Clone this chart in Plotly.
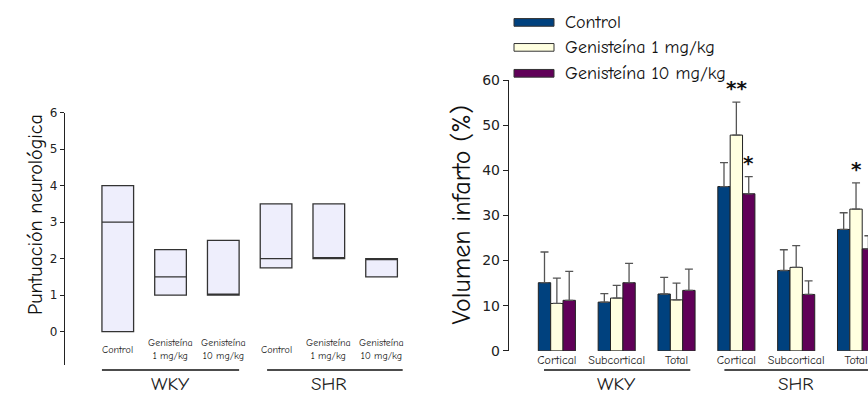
import plotly.graph_objects as go

# --- left panel: neurological score (box = q1..q3, line = median) ---
score_labels = ["Control", "Genisteína<br>1 mg/kg", "Genisteína<br>10 mg/kg",
                "Control", "Genisteína<br>1 mg/kg", "Genisteína<br>10 mg/kg"]
score_pos = [1, 2, 3, 4, 5, 6]
score_q1 = [0, 1, 1, 1.75, 2, 1.5]
score_median = [3, 1.5, 1, 2, 2, 2]
score_q3 = [4, 2.25, 2.5, 3.5, 3.5, 2]

# --- right panel: infarct volume ---
regions = ["Cortical", "Subcortical", "Total", "Cortical", "Subcortical", "Total"]
region_pos = [1, 2, 3, 4, 5, 6]
series = ["Control", "Genisteína 1 mg/kg", "Genisteína 10 mg/kg"]
vol_control = [15.1, 10.8, 12.6, 36.4, 17.8, 26.9]
vol_gen1 = [10.5, 11.7, 11.3, 47.8, 18.5, 31.4]
vol_gen10 = [11.2, 15.1, 13.4, 34.8, 12.5, 22.6]
sem_control = [6.8, 1.9, 3.7, 5.3, 4.6, 3.7]
sem_gen1 = [5.6, 2.8, 3.7, 7.3, 4.8, 5.8]
sem_gen10 = [6.4, 4.3, 4.7, 3.8, 3.0, 2.9]
# significance marks: (group index, series index, text)
stars = [(3, 1, "**"), (3, 2, "*"), (5, 1, "*")]

colors = ["#00417e", "#ffffe0", "#600058"]
TITLE_FONT = "Comic Sans MS, Comic Neue, Open Sans, sans-serif"
TICK_FONT = "Verdana, DejaVu Sans, sans-serif"

fig = go.Figure()

fig.add_trace(
    go.Box(
        x=score_pos,
        q1=score_q1,
        median=score_median,
        q3=score_q3,
        lowerfence=score_q1,
        upperfence=score_q3,
        width=0.6,
        fillcolor="#eeeefc",
        line={"color": "#333333", "width": 1.3},
        xaxis="x",
        yaxis="y",
        showlegend=False,
        hoverinfo="skip",
    )
)

vols = [vol_control, vol_gen1, vol_gen10]
sems = [sem_control, sem_gen1, sem_gen10]
for name, vals, errs, color in zip(series, vols, sems, colors):
    fig.add_trace(
        go.Bar(
            x=region_pos,
            y=vals,
            name=name,
            marker={"color": color, "line": {"color": "#222222", "width": 1}},
            error_y={
                "type": "data",
                "array": errs,
                "arrayminus": [0] * len(errs),
                "symmetric": False,
                "color": "#555555",
                "thickness": 1.3,
                "width": 4,
            },
            xaxis="x2",
            yaxis="y2",
            showlegend=False,
        )
    )

fig.update_layout(
    width=868,
    height=404,
    margin={"l": 0, "r": 0, "t": 0, "b": 0},
    plot_bgcolor="#ffffff",
    paper_bgcolor="#ffffff",
    barmode="group",
    bargap=0.38,
    bargroupgap=0,
    font={"family": TICK_FONT, "color": "#222222"},
    xaxis={
        "domain": [0.0749, 0.47],
        "range": [0, 6.5],
        "visible": False,
        "fixedrange": True,
        "anchor": "y",
    },
    yaxis={
        "domain": [0.0792, 0.7302],
        "range": [-0.92, 6],
        "anchor": "x",
        "tickvals": [0, 1, 2, 3, 4, 5, 6],
        "ticks": "outside",
        "ticklen": 4,
        "tickcolor": "#222222",
        "showline": True,
        "linecolor": "#222222",
        "linewidth": 1.3,
        "showgrid": False,
        "zeroline": False,
        "tickfont": {"size": 12},
    },
    xaxis2={
        "domain": [0.5864, 1.0],
        "range": [0.2, 6.2],
        "anchor": "y2",
        "tickvals": region_pos,
        "ticktext": regions,
        "ticks": "",
        "showline": False,
        "showgrid": False,
        "zeroline": False,
        "tickfont": {"size": 12, "family": TITLE_FONT},
        "ticklabelstandoff": 0,
    },
    yaxis2={
        "domain": [0.1163, 0.8144],
        "range": [0, 60],
        "anchor": "x2",
        "tickvals": [0, 10, 20, 30, 40, 50, 60],
        "ticks": "outside",
        "ticklen": 5,
        "tickcolor": "#222222",
        "showline": True,
        "linecolor": "#222222",
        "linewidth": 1.3,
        "showgrid": False,
        "zeroline": False,
        "tickfont": {"size": 14},
    },
)

# axis titles placed as in the original figure
fig.add_annotation(
    x=22 / 868, y=1 - 215 / 404, xref="paper", yref="paper", text="Puntuación neurológica",
    textangle=-90, showarrow=False, font={"size": 20, "family": TITLE_FONT, "color": "#111111"},
)
fig.add_annotation(
    x=462 / 868, y=1 - 216 / 404, xref="paper", yref="paper", text="Volumen infarto (%)",
    textangle=-90, showarrow=False, font={"size": 26, "family": TITLE_FONT, "color": "#111111"},
)

# box category labels
for pos, label in zip(score_pos, score_labels):
    fig.add_annotation(
        x=pos, y=-0.5, xref="x", yref="y", text=label, showarrow=False,
        font={"size": 10, "family": TITLE_FONT}, yanchor="middle",
    )

# group underlines and group names
groups = [
    ("x", 0.70, 3.30, 2.0, "WKY"),
    ("x", 3.83, 6.40, 5.0, "SHR"),
    ("x2", 0.785, 3.23, 2.0, "WKY"),
    ("x2", 3.80, 6.5, 5.0, "SHR"),
]
for xref, x0, x1, xc, name in groups:
    fig.add_shape(
        type="line", xref=xref, yref="paper", x0=x0, x1=x1, y0=0.067, y1=0.067,
        line={"color": "#111111", "width": 1.5},
    )
    fig.add_annotation(
        x=xc, y=0.03, xref=xref, yref="paper", text=name, showarrow=False,
        font={"size": 19, "family": TITLE_FONT}, yanchor="middle",
    )

# significance stars
bar_w = (1 - 0.38) / 3
for gi, si, txt in stars:
    fig.add_annotation(
        x=region_pos[gi] + (si - 1) * bar_w, y=vols[si][gi] + sems[si][gi],
        xref="x2", yref="y2", text=f"<b>{txt}</b>", showarrow=False, yanchor="bottom",
        font={"size": 20, "family": TICK_FONT, "color": "#111111"},
    )

# custom legend with wide swatches
legend_y = [1 - 15 / 404, 1 - 41 / 404, 1 - 68 / 404]
for name, color, ly in zip(series, colors, legend_y):
    fig.add_shape(
        type="rect", xref="paper", yref="paper",
        x0=514 / 868, x1=554 / 868, y0=ly - 4 / 404, y1=ly + 4 / 404,
        fillcolor=color, line={"color": "#333333", "width": 1},
    )
    fig.add_annotation(
        x=563 / 868, y=ly, xref="paper", yref="paper", text=name, showarrow=False,
        xanchor="left", yanchor="middle", font={"size": 18, "family": TITLE_FONT, "color": "#111111"},
    )

fig.write_html(
    "out.html",
    config={"displayModeBar": False},
    post_script="document.body.style.margin='0';",
)
